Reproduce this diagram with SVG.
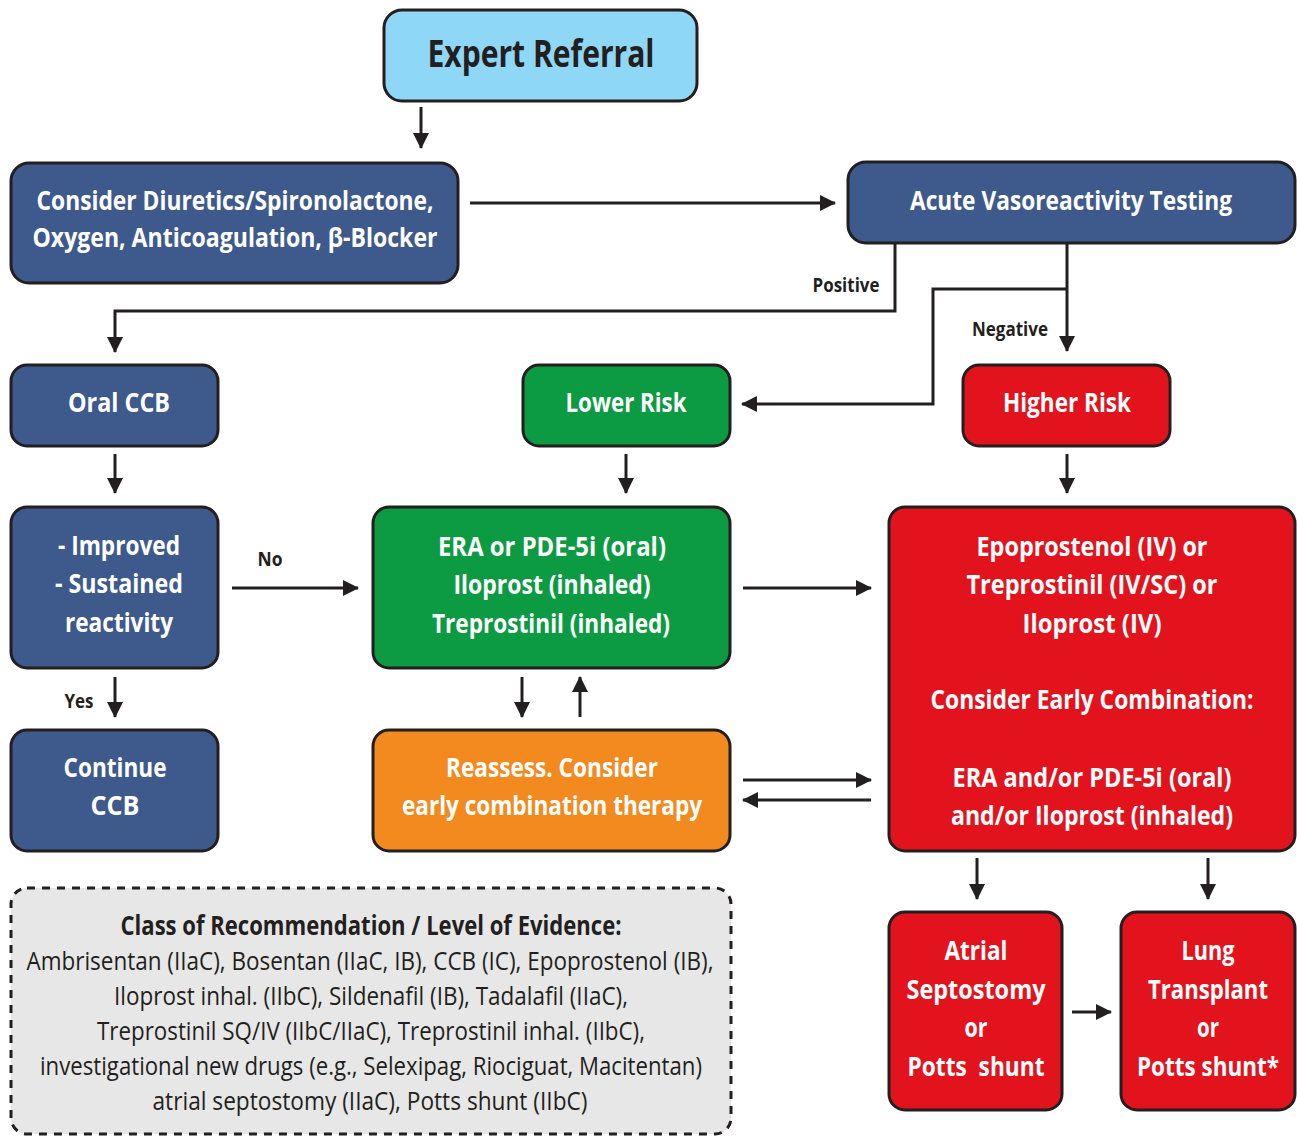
<svg xmlns="http://www.w3.org/2000/svg" width="1297" height="1136" viewBox="0 0 1297 1136">
<style>
.box{stroke:#231f20;stroke-width:3}
.blue{fill:#3e5a8c}
.green{fill:#0c9a42}
.red{fill:#e3131e}
.orange{fill:#f38a20}
.t{font-family:"Open Sans","Liberation Sans",sans-serif;font-weight:700;font-size:27px;fill:#fff;text-anchor:middle}
.lbl{font-family:"Open Sans","Liberation Sans",sans-serif;font-weight:700;font-size:19px;fill:#231f20;text-anchor:middle}
.n{font-family:"Open Sans","Liberation Sans",sans-serif;font-size:26px;fill:#231f20;text-anchor:middle}
.c{fill:none;stroke:#231f20;stroke-width:3}
</style>
<defs>
<marker id="ah" markerUnits="userSpaceOnUse" markerWidth="18" markerHeight="18" refX="15" refY="8" orient="auto">
<path d="M0,0 L16,8 L0,16 z" fill="#231f20"/>
</marker>
</defs>
<rect width="1297" height="1136" fill="#fff"/>

<g id="connectors">
<line class="c" x1="421" y1="107" x2="421" y2="148" marker-end="url(#ah)"/>
<line class="c" x1="470" y1="203" x2="835" y2="203" marker-end="url(#ah)"/>
<polyline class="c" points="895,243 895,311 115,311 115,352" marker-end="url(#ah)"/>
<line class="c" x1="1067" y1="243" x2="1067" y2="351" marker-end="url(#ah)"/>
<polyline class="c" points="1067,289 933,289 933,404 742,404" marker-end="url(#ah)"/>
<line class="c" x1="115" y1="454" x2="115" y2="493" marker-end="url(#ah)"/>
<line class="c" x1="626" y1="454" x2="626" y2="493" marker-end="url(#ah)"/>
<line class="c" x1="1067" y1="454" x2="1067" y2="493" marker-end="url(#ah)"/>
<line class="c" x1="232" y1="588" x2="358" y2="588" marker-end="url(#ah)"/>
<line class="c" x1="743" y1="588" x2="871" y2="588" marker-end="url(#ah)"/>
<line class="c" x1="115" y1="677" x2="115" y2="717" marker-end="url(#ah)"/>
<line class="c" x1="522" y1="677" x2="522" y2="717" marker-end="url(#ah)"/>
<line class="c" x1="580" y1="717" x2="580" y2="677" marker-end="url(#ah)"/>
<line class="c" x1="743" y1="780" x2="871" y2="780" marker-end="url(#ah)"/>
<line class="c" x1="871" y1="800" x2="743" y2="800" marker-end="url(#ah)"/>
<line class="c" x1="977" y1="858" x2="977" y2="899" marker-end="url(#ah)"/>
<line class="c" x1="1208" y1="858" x2="1208" y2="899" marker-end="url(#ah)"/>
<line class="c" x1="1072" y1="1012" x2="1111" y2="1012" marker-end="url(#ah)"/>
<text class="lbl" x="846" y="292" textLength="67" lengthAdjust="spacingAndGlyphs">Positive</text>
<text class="lbl" x="1010" y="336" textLength="76" lengthAdjust="spacingAndGlyphs">Negative</text>
<text class="lbl" x="270" y="566" textLength="25" lengthAdjust="spacingAndGlyphs">No</text>
<text class="lbl" x="79" y="708" textLength="29" lengthAdjust="spacingAndGlyphs">Yes</text>
</g>

<g id="expert-referral">
<rect class="box" x="384" y="10" width="313" height="91" rx="18" fill="#8fd7f6"/>
<text x="541" y="67" font-family="Open Sans, Liberation Sans, sans-serif" font-weight="700" font-size="38" fill="#231f20" text-anchor="middle" textLength="227" lengthAdjust="spacingAndGlyphs">Expert Referral</text>
</g>

<g id="consider-diuretics">
<rect class="box blue" x="11" y="163" width="447" height="120" rx="18"/>
<text class="t" x="235" y="210" textLength="397" lengthAdjust="spacingAndGlyphs">Consider Diuretics/Spironolactone,</text>
<text class="t" x="235" y="247" textLength="405" lengthAdjust="spacingAndGlyphs">Oxygen, Anticoagulation, β-Blocker</text>
</g>

<g id="acute-vasoreactivity">
<rect class="box blue" x="848" y="162" width="447" height="81" rx="18"/>
<text class="t" x="1071" y="210" textLength="322" lengthAdjust="spacingAndGlyphs">Acute Vasoreactivity Testing</text>
</g>

<g id="oral-ccb">
<rect class="box blue" x="11" y="365" width="207" height="81" rx="16"/>
<text class="t" x="119" y="412" textLength="102" lengthAdjust="spacingAndGlyphs">Oral CCB</text>
</g>

<g id="lower-risk">
<rect class="box green" x="523" y="365" width="207" height="81" rx="16"/>
<text class="t" x="626" y="412" textLength="121" lengthAdjust="spacingAndGlyphs">Lower Risk</text>
</g>

<g id="higher-risk">
<rect class="box red" x="963" y="365" width="207" height="81" rx="16"/>
<text class="t" x="1067" y="412" textLength="128" lengthAdjust="spacingAndGlyphs">Higher Risk</text>
</g>

<g id="improved">
<rect class="box blue" x="11" y="507" width="207" height="161" rx="16"/>
<text class="t" x="119" y="555" textLength="122" lengthAdjust="spacingAndGlyphs">- Improved</text>
<text class="t" x="119" y="593" textLength="128" lengthAdjust="spacingAndGlyphs">- Sustained</text>
<text class="t" x="119" y="632" textLength="108" lengthAdjust="spacingAndGlyphs">reactivity</text>
</g>

<g id="era-pde">
<rect class="box green" x="373" y="507" width="357" height="161" rx="16"/>
<text class="t" x="552" y="556" textLength="228" lengthAdjust="spacingAndGlyphs">ERA or PDE-5i (oral)</text>
<text class="t" x="552" y="594" textLength="197" lengthAdjust="spacingAndGlyphs">Iloprost (inhaled)</text>
<text class="t" x="551" y="633" textLength="238" lengthAdjust="spacingAndGlyphs">Treprostinil (inhaled)</text>
</g>

<g id="epoprostenol">
<rect class="box red" x="889" y="507" width="406" height="344" rx="16"/>
<text class="t" x="1092" y="556" textLength="231" lengthAdjust="spacingAndGlyphs">Epoprostenol (IV) or</text>
<text class="t" x="1092" y="594" textLength="251" lengthAdjust="spacingAndGlyphs">Treprostinil (IV/SC) or</text>
<text class="t" x="1092" y="633" textLength="139" lengthAdjust="spacingAndGlyphs">Iloprost (IV)</text>
<text class="t" x="1092" y="709" font-size="25" textLength="323" lengthAdjust="spacingAndGlyphs">Consider Early Combination:</text>
<text class="t" x="1092" y="787" textLength="279" lengthAdjust="spacingAndGlyphs">ERA and/or PDE-5i (oral)</text>
<text class="t" x="1092" y="825" textLength="282" lengthAdjust="spacingAndGlyphs">and/or Iloprost (inhaled)</text>
</g>

<g id="continue-ccb">
<rect class="box blue" x="11" y="730" width="207" height="121" rx="16"/>
<text class="t" x="115" y="777" textLength="103" lengthAdjust="spacingAndGlyphs">Continue</text>
<text class="t" x="115" y="815" textLength="49" lengthAdjust="spacingAndGlyphs">CCB</text>
</g>

<g id="reassess">
<rect class="box orange" x="373" y="730" width="357" height="121" rx="16"/>
<text class="t" x="552" y="777" textLength="212" lengthAdjust="spacingAndGlyphs">Reassess. Consider</text>
<text class="t" x="552" y="815" textLength="300" lengthAdjust="spacingAndGlyphs">early combination therapy</text>
</g>

<g id="atrial-septostomy">
<rect class="box red" x="889" y="912" width="173" height="198" rx="16"/>
<text class="t" x="976" y="960" textLength="63" lengthAdjust="spacingAndGlyphs">Atrial</text>
<text class="t" x="976" y="999" textLength="139" lengthAdjust="spacingAndGlyphs">Septostomy</text>
<text class="t" x="976" y="1037" textLength="23" lengthAdjust="spacingAndGlyphs">or</text>
<text class="t" x="976" y="1076" textLength="137" lengthAdjust="spacingAndGlyphs" xml:space="preserve">Potts  shunt</text>
</g>

<g id="lung-transplant">
<rect class="box red" x="1121" y="912" width="174" height="198" rx="16"/>
<text class="t" x="1208" y="960" textLength="53" lengthAdjust="spacingAndGlyphs">Lung</text>
<text class="t" x="1208" y="999" textLength="120" lengthAdjust="spacingAndGlyphs">Transplant</text>
<text class="t" x="1208" y="1037" textLength="22" lengthAdjust="spacingAndGlyphs">or</text>
<text class="t" x="1208" y="1076" font-size="24" textLength="142" lengthAdjust="spacingAndGlyphs">Potts shunt*</text>
</g>

<g id="legend">
<rect x="11" y="888" width="720" height="246" rx="16" fill="#e7e7e7" stroke="#231f20" stroke-width="3" stroke-dasharray="8,7"/>
<text class="n" x="371" y="935" font-weight="700" textLength="501" lengthAdjust="spacingAndGlyphs">Class of Recommendation / Level of Evidence:</text>
<text class="n" x="370" y="970" textLength="687" lengthAdjust="spacingAndGlyphs">Ambrisentan (IIaC), Bosentan (IIaC, IB), CCB (IC), Epoprostenol (IB),</text>
<text class="n" x="371" y="1005" textLength="514" lengthAdjust="spacingAndGlyphs">Iloprost inhal. (IIbC), Sildenafil (IB), Tadalafil (IIaC),</text>
<text class="n" x="371" y="1040" textLength="548" lengthAdjust="spacingAndGlyphs">Treprostinil SQ/IV (IIbC/IIaC), Treprostinil inhal. (IIbC),</text>
<text class="n" x="371" y="1075" textLength="662" lengthAdjust="spacingAndGlyphs">investigational new drugs (e.g., Selexipag, Riociguat, Macitentan)</text>
<text class="n" x="370" y="1110" textLength="435" lengthAdjust="spacingAndGlyphs">atrial septostomy (IIaC), Potts shunt (IIbC)</text>
</g>
</svg>
